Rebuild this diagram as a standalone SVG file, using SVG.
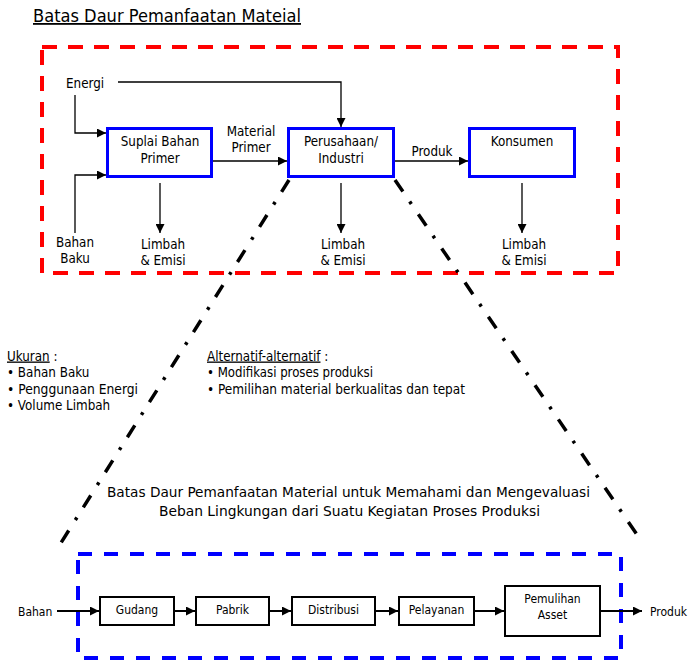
<svg xmlns="http://www.w3.org/2000/svg" width="692" height="660" viewBox="0 0 692 660">
<style>
text{font-family:'DejaVu Sans Condensed','DejaVu Sans',sans-serif;font-stretch:condensed;fill:#000}
.t13{font-size:13.3px}
.t12{font-size:12px}
.c{text-anchor:middle}
.bbox{fill:#fff;stroke:#0000ff;stroke-width:3}
.kbox{fill:#fff;stroke:#000;stroke-width:2}
.ln{fill:none;stroke:#000;stroke-width:1.3}
.ln2{fill:none;stroke:#000;stroke-width:2}
.dd{fill:none;stroke:#000;stroke-width:3.5;stroke-dasharray:14 12 3 12.4}
</style>
<defs>
<marker id="ah" viewBox="0 0 10 10" refX="10" refY="5" markerUnits="userSpaceOnUse" markerWidth="9" markerHeight="9" orient="auto"><path d="M0,0 L10,5 L0,10 z" fill="#000"/></marker>
</defs>
<g id="title"><text x="33" y="22" textLength="268" lengthAdjust="spacingAndGlyphs" style="font-size:18px;text-decoration:underline">Batas Daur Pemanfaatan Mateial</text></g>
<g id="red-boundary"><rect x="42" y="47" width="576" height="226" fill="none" stroke="#ff0000" stroke-width="4" stroke-dasharray="15 11"/></g>
<g id="blue-boundary"><rect x="78" y="554" width="543" height="104" fill="none" stroke="#0000ff" stroke-width="4" stroke-dasharray="14 12"/></g>
<g id="zoom-lines"><path class="dd" d="M289,180 L59,546"/><path class="dd" d="M395,180 L642,542"/></g>
<g id="connectors">
<path class="ln" d="M118,82 H341 V127" marker-end="url(#ah)"/>
<path class="ln" d="M75,95 V133 H106" marker-end="url(#ah)"/>
<path class="ln" d="M75,233 V175 H106" marker-end="url(#ah)"/>
<path class="ln" d="M213,161 H287" marker-end="url(#ah)"/>
<path class="ln" d="M395,161 H468" marker-end="url(#ah)"/>
<path class="ln" d="M160,183 V233" marker-end="url(#ah)"/>
<path class="ln" d="M341,183 V233" marker-end="url(#ah)"/>
<path class="ln" d="M522,183 V233" marker-end="url(#ah)"/>
<path class="ln2" d="M57,611 H99" marker-end="url(#ah)"/>
<path class="ln2" d="M175,611 H195" marker-end="url(#ah)"/>
<path class="ln2" d="M270,611 H291" marker-end="url(#ah)"/>
<path class="ln2" d="M376,611 H398" marker-end="url(#ah)"/>
<path class="ln2" d="M475,611 H504" marker-end="url(#ah)"/>
<path class="ln2" d="M601,611 H642" marker-end="url(#ah)"/>
</g>
<g id="energi"><text class="t13" x="66" y="87.5">Energi</text></g>
<g id="bahan-baku"><text class="t13 c" x="75" y="246.5">Bahan</text><text class="t13 c" x="75" y="263">Baku</text></g>
<g id="suplai"><rect class="bbox" x="107.5" y="128.5" width="104" height="48"/><text class="t13 c" x="160" y="146">Suplai Bahan</text><text class="t13 c" x="160" y="162.5">Primer</text></g>
<g id="material-primer"><text class="t13 c" x="251" y="135.5">Material</text><text class="t13 c" x="251" y="151.5">Primer</text></g>
<g id="perusahaan"><rect class="bbox" x="288.5" y="128.5" width="105" height="48"/><text class="t13 c" x="341" y="146">Perusahaan/</text><text class="t13 c" x="341" y="162.5">Industri</text></g>
<g id="produk-label"><text class="t13 c" x="432" y="156">Produk</text></g>
<g id="konsumen"><rect class="bbox" x="469.5" y="128.5" width="105" height="48"/><text class="t13 c" x="522" y="146">Konsumen</text></g>
<g id="limbah1"><text class="t13 c" x="163" y="249">Limbah</text><text class="t13 c" x="163" y="265">&amp; Emisi</text></g>
<g id="limbah2"><text class="t13 c" x="343" y="249">Limbah</text><text class="t13 c" x="343" y="265">&amp; Emisi</text></g>
<g id="limbah3"><text class="t13 c" x="524" y="249">Limbah</text><text class="t13 c" x="524" y="265">&amp; Emisi</text></g>
<g id="ukuran">
<text class="t13" x="7" y="360.5"><tspan style="text-decoration:underline">Ukuran</tspan> :</text>
<text class="t13" x="7" y="377">• Bahan Baku</text>
<text class="t13" x="7" y="393.5" textLength="131" lengthAdjust="spacingAndGlyphs">• Penggunaan Energi</text>
<text class="t13" x="7" y="410">• Volume Limbah</text>
</g>
<g id="alternatif">
<text class="t13" x="207" y="360.5"><tspan style="text-decoration:underline">Alternatif-alternatif</tspan> :</text>
<text class="t13" x="207" y="377" textLength="166" lengthAdjust="spacingAndGlyphs">• Modifikasi proses produksi</text>
<text class="t13" x="207" y="393.5" textLength="258" lengthAdjust="spacingAndGlyphs">• Pemilihan material berkualitas dan tepat</text>
</g>
<g id="caption">
<text x="107" y="497" textLength="483" lengthAdjust="spacingAndGlyphs" style="font-size:14.6px">Batas Daur Pemanfaatan Material untuk Memahami dan Mengevaluasi</text>
<text x="159" y="516" textLength="381" lengthAdjust="spacingAndGlyphs" style="font-size:14.6px">Beban Lingkungan dari Suatu Kegiatan Proses Produksi</text>
</g>
<g id="bahan"><text class="t12" x="18" y="616">Bahan</text></g>
<g id="gudang"><rect class="kbox" x="100" y="597" width="74" height="28"/><text class="t12 c" x="137" y="614">Gudang</text></g>
<g id="pabrik"><rect class="kbox" x="196" y="597" width="73" height="28"/><text class="t12 c" x="232.5" y="614">Pabrik</text></g>
<g id="distribusi"><rect class="kbox" x="292" y="597" width="83" height="28"/><text class="t12 c" x="333.5" y="614">Distribusi</text></g>
<g id="pelayanan"><rect class="kbox" x="399" y="597" width="75" height="28"/><text class="t12 c" x="436.5" y="614">Pelayanan</text></g>
<g id="pemulihan"><rect class="kbox" x="505" y="586" width="95" height="50"/><text class="t12 c" x="552.5" y="603">Pemulihan</text><text class="t12 c" x="552.5" y="619">Asset</text></g>
<g id="produk-out"><text class="t12" x="650" y="616">Produk</text></g>
</svg>
